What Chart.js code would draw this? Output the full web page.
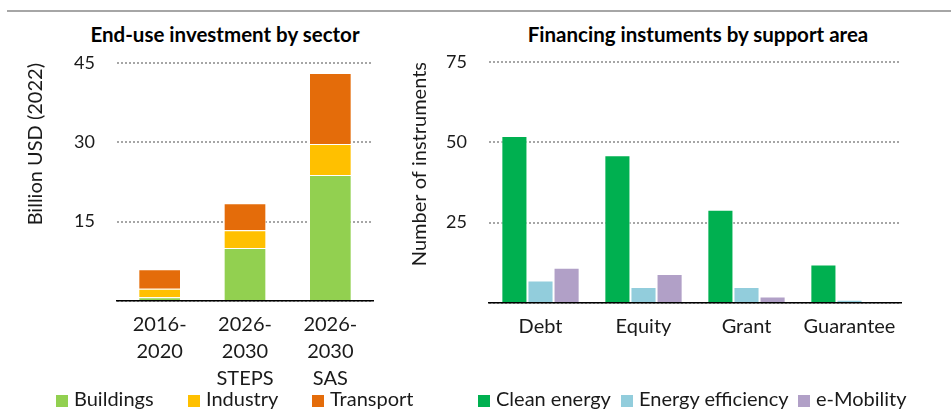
<!DOCTYPE html>
<html>
<head>
<meta charset="utf-8">
<script src="https://cdn.jsdelivr.net/npm/chart.js@4.4.0/dist/chart.umd.min.js"></script>
<style>
  body { margin: 0; width: 951px; height: 410px; position: relative; background: #fff; font-family: Lato, sans-serif; overflow: hidden; }
  .topline { position: absolute; left: 7px; right: 0; top: 10px; height: 2px; background: #a6a6a6; }
  .title { position: absolute; top: 23px; font-weight: bold; font-size: 20.5px; line-height: 22px; color: #000; white-space: nowrap; transform: translateX(-50%); }
  canvas { position: absolute; top: 0; }
  .legend-item { position: absolute; top: 386px; font-size: 20px; line-height: 24px; color: #1a1a1a; white-space: nowrap; }
  .legend-item span { display: inline-block; width: 12px; height: 12px; margin-right: 6px; vertical-align: -1px; }
</style>
</head>
<body>
<div class="topline"></div>
<div class="title" style="left:225px">End-use investment by sector</div>
<div class="title" style="left:698px">Financing instuments by support area</div>
<canvas id="sectorChart" width="390" height="410" style="left:0"></canvas>
<canvas id="areaChart" width="561" height="410" style="left:390px"></canvas>
<div id="legends"></div>
<script>
const sectorLabels = [["2016-", "2020"], ["2026-", "2030", "STEPS"], ["2026-", "2030", "SAS"]];
const buildings = [0.7, 10.0, 23.8];
const industry = [1.6, 3.4, 5.9];
const transport = [3.7, 5.1, 13.4];
const sectorTicks = [15, 30, 45];

const areaLabels = ["Debt", "Equity", "Grant", "Guarantee"];
const cleanEnergy = [52, 46, 29, 12];
const energyEfficiency = [7, 5, 5, 1];
const eMobility = [11, 9, 2, 0];
const areaTicks = [25, 50, 75];

Chart.defaults.font.family = "Lato, sans-serif";
Chart.defaults.font.size = 20;
Chart.defaults.color = "#1a1a1a";

function axes(yTitle, ticks, max, yWidth, xHeight, titlePad, stacked) {
  return {
    x: {
      stacked: stacked,
      grid: { display: false },
      border: { display: true, color: "#000", width: 1.5 },
      ticks: { padding: 2, font: { size: 20, lineHeight: 1.35 } },
      afterFit: (s) => { s.height = xHeight; },
    },
    y: {
      stacked: stacked,
      min: 0,
      max: max,
      ticks: {
        stepSize: ticks[0],
        padding: 22,
        font: { size: 18 },
        callback: (v) => (ticks.includes(v) ? v : ""),
      },
      grid: { color: "#a6a6a6", lineWidth: 2, drawTicks: false },
      border: { display: false, dash: [2, 2] },
      title: { display: true, text: yTitle, align: "end", padding: { top: titlePad }, font: { size: 20 } },
      afterFit: (s) => { s.width = yWidth; },
    },
  };
}

const sectorChart = new Chart(document.getElementById("sectorChart"), {
  type: "bar",
  data: {
    labels: sectorLabels,
    datasets: [
      { label: "Buildings", data: buildings, backgroundColor: "#92d050" },
      { label: "Industry", data: industry, backgroundColor: "#ffc000" },
      { label: "Transport", data: transport, backgroundColor: "#e46c0a" },
    ],
  },
  options: {
    responsive: false,
    animation: false,
    layout: { padding: { top: 63, right: 17, bottom: 0, left: 0 } },
    datasets: { bar: { categoryPercentage: 1, barPercentage: 0.5, borderColor: "#fff", borderWidth: 1 } },
    plugins: { legend: { display: false }, tooltip: { enabled: false } },
    scales: axes("Billion USD (2022)", sectorTicks, 45, 117, 109, 24, true),
  },
});

const areaChart = new Chart(document.getElementById("areaChart"), {
  type: "bar",
  data: {
    labels: areaLabels,
    datasets: [
      { label: "Clean energy", data: cleanEnergy, backgroundColor: "#00b050" },
      { label: "Energy efficiency", data: energyEfficiency, backgroundColor: "#92cddc" },
      { label: "e-Mobility", data: eMobility, backgroundColor: "#b1a0c7" },
    ],
  },
  options: {
    responsive: false,
    animation: false,
    layout: { padding: { top: 62, right: 50, bottom: 0, left: 0 } },
    datasets: { bar: { categoryPercentage: 0.76, barPercentage: 1, borderColor: "#fff", borderWidth: 1 } },
    plugins: { legend: { display: false }, tooltip: { enabled: false } },
    scales: axes("Number of instruments", areaTicks, 75, 99, 107, 18, false),
  },
});

// dotted gridlines
[sectorChart, areaChart].forEach((c) => {
  c.options.scales.y.grid.borderDash = [2, 2];
  c.options.scales.y.border.dash = [2, 2];
  c.update();
});

// html legends, built from the chart datasets
function addLegend(chart, lefts) {
  const box = document.getElementById("legends");
  chart.data.datasets.forEach((ds, i) => {
    const item = document.createElement("div");
    item.className = "legend-item";
    item.style.left = lefts[i] + "px";
    const sw = document.createElement("span");
    sw.style.background = ds.backgroundColor;
    item.appendChild(sw);
    item.appendChild(document.createTextNode(ds.label));
    box.appendChild(item);
  });
}
addLegend(sectorChart, [56, 188, 312]);
addLegend(areaChart, [478, 621, 798]);
</script>
</body>
</html>
